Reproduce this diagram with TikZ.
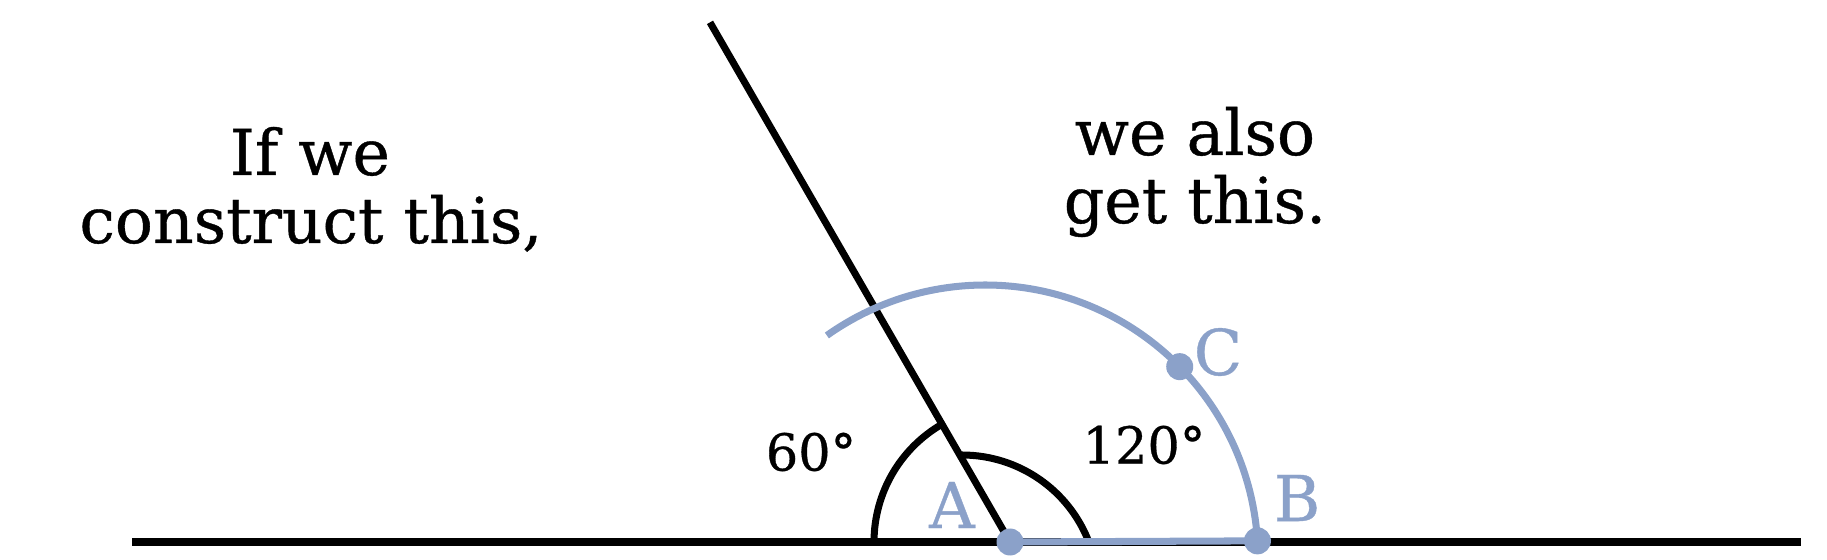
\documentclass[tikz,border=0pt]{standalone}
\usepackage{fontspec}
\setmainfont[FakeBold=0.6]{DejaVu Serif}
\usetikzlibrary{calc}
\definecolor{compass}{RGB}{139,161,201}
\begin{document}
\begin{tikzpicture}[
    line width=2pt,
    bigtext/.style={font=\fontsize{18}{22}\selectfont, anchor=base, inner sep=0pt},
    angtext/.style={font=\fontsize{14.5}{17}\selectfont, inner sep=0pt},
    ptlabel/.style={font=\fontsize{18}{21}\selectfont, text=compass, inner sep=0pt},
    pt/.style={circle, fill=compass, inner sep=0pt, minimum size=0.27cm}
  ]
  \useasboundingbox (0,0) rectangle (18.27,5.60);
  % the line and the constructed ray
  \coordinate (L) at (1.32,0.18);
  \coordinate (R) at (18.01,0.18);
  \coordinate (A) at (10.10,0.18);
  \coordinate (T) at ($(A)+(120:6.0)$);
  % centre of the compass arc
  \coordinate (O) at (9.85,0.02);
  \coordinate (B) at ($(O)+(3.6:2.73)$);
  \coordinate (C) at ($(O)+(44.5:2.73)$);
  \draw (L) -- (R);
  \draw (A) -- (T);
  % angle marks
  \draw ($(A)+(180:1.36)$) coordinate (m1) arc[start angle=180, end angle=120, radius=1.36];
  \coordinate (K) at (9.62,-0.31);
  \draw ($(K)+(90:1.36)$) coordinate (m2) arc[start angle=90, end angle=21, radius=1.36];
  % what we also get
  \draw[compass] (A) -- (B);
  \draw[compass] (B) arc[start angle=3.6, end angle=125.4, radius=2.73];
  \node[pt] (a) at (A) {};
  \node[pt] (b) at (B) {};
  \node[pt] (c) at (C) {};
  \node[ptlabel] (la) at (9.52,0.55) {A};
  \node[ptlabel] (lb) at (12.97,0.62) {B};
  \node[ptlabel] (lc) at (12.18,2.08) {C};
  \node[angtext] (sixty) at (8.11,1.08) {60°};
  \node[angtext] (onetwenty) at (11.44,1.15) {120°};
  % the two sentences
  \node[bigtext] (ifwe) at (3.10,3.85) {If we};
  \node[bigtext] (construct) at (3.11,3.17) {construct this,};
  \node[bigtext] (wealso) at (11.95,4.05) {we also};
  \node[bigtext] (getthis) at (11.95,3.37) {get this.};
\end{tikzpicture}
\end{document}
